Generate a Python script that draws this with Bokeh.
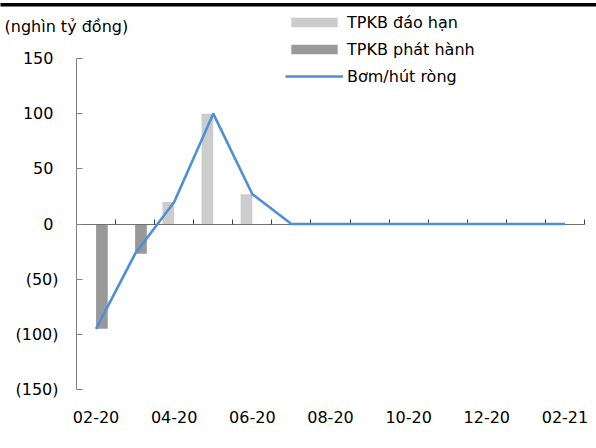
from bokeh.plotting import figure
from bokeh.models import (Range1d, FixedTicker, LinearAxis, Legend, LegendItem,
                          Label, ColumnDataSource)
from bokeh.transform import dodge
from bokeh.embed import file_html
from bokeh.resources import INLINE

# ---- data ----
months = ["02-20", "03-20", "04-20", "05-20", "06-20", "07-20", "08-20",
          "09-20", "10-20", "11-20", "12-20", "01-21", "02-21"]
dao_han = [0, 0, 20, 100, 27, 0, 0, 0, 0, 0, 0, 0, 0]          # TPKB đáo hạn
phat_hanh = [-95, -27, 0, 0, 0, 0, 0, 0, 0, 0, 0, 0, 0]        # TPKB phát hành
bom_hut = [-95, -27, 20, 100, 27, 0, 0, 0, 0, 0, 0, 0, 0]      # Bơm/hút ròng
y_ticks = [-150, -100, -50, 0, 50, 100, 150]
unit_label = "(nghìn tỷ đồng)"
series_names = ["TPKB đáo hạn", "TPKB phát hành", "Bơm/hút ròng"]

FONT = "DejaVu Sans"
FS = "16px"
TXT = "#000000"

W, H = 596, 448
# plot area in pixels: x 76..584, y 58..389
PX = 13 / 508.0
PY = 300 / 331.0
def dx(px):
    return -0.5 + (px - 76) * PX
def dy(py):
    return 150 + (58 - py) * PY

idx = list(range(len(months)))
src = ColumnDataSource(dict(x=idx, dao_han=dao_han, phat_hanh=phat_hanh, net=bom_hut))

p = figure(width=W, height=H, output_backend="svg", toolbar_location=None,
           x_range=Range1d(dx(0), dx(W)), y_range=Range1d(dy(H), dy(0)),
           x_axis_location=None, y_axis_location=None, title=None,
           min_border_left=0, min_border_right=0, min_border_top=0, min_border_bottom=0)
p.outline_line_color = None
p.grid.visible = False
p.background_fill_color = "white"
p.border_fill_color = "white"

r1 = p.vbar(x=dodge("x", -0.15), top="dao_han", width=0.3, source=src,
            fill_color="#CCCCCC", line_color=None)
r2 = p.vbar(x=dodge("x", 0.15), top="phat_hanh", width=0.3, source=src,
            fill_color="#999999", line_color=None)
r3 = p.line(x="x", y="net", source=src, line_color="#4E8FD6", line_width=2.6,
            level="overlay")

# top rule (page decoration), drawn as a thin filled band
p.quad(left=[dx(0)], right=[dx(W)], top=[dy(2.5)], bottom=[dy(6)],
       fill_color="black", line_color=None, level="overlay")

# y axis
yax = LinearAxis(ticker=FixedTicker(ticks=y_ticks), fixed_location=-0.5,
                 bounds=(y_ticks[0], y_ticks[-1]))
yax.major_label_overrides = {t: (f"({abs(t)})" if t < 0 else f"{t}\u00a0") for t in y_ticks}
yax.axis_line_color = "#808080"
yax.major_tick_line_color = "#808080"
yax.major_tick_in = 6
yax.major_tick_out = 0
yax.minor_tick_line_color = None
yax.major_label_standoff = 18
yax.major_label_text_font = FONT
yax.major_label_text_font_size = FS
yax.major_label_text_color = TXT
p.add_layout(yax, "left")

# zero line axis with boundary ticks (no labels)
z_ticks = [i - 0.5 for i in range(len(months) + 1)]
zax = LinearAxis(ticker=FixedTicker(ticks=z_ticks),
                 fixed_location=0, bounds=(-0.5, len(months) - 0.5))
zax.major_label_overrides = {t: "" for t in z_ticks}
zax.axis_line_color = "#707070"
zax.major_tick_line_color = "#404040"
zax.major_tick_in = 5
zax.major_tick_out = 0
zax.minor_tick_line_color = None
zax.major_label_text_alpha = 0
zax.major_label_standoff = 0
p.add_layout(zax, "below")

# label axis at bottom
lab_ticks = idx[::2]
xax = LinearAxis(ticker=FixedTicker(ticks=lab_ticks), fixed_location=y_ticks[0])
xax.major_label_overrides = {i: months[i] for i in lab_ticks}
xax.axis_line_color = None
xax.major_tick_line_color = None
xax.minor_tick_line_color = None
xax.major_label_standoff = 15
xax.major_label_text_font = FONT
xax.major_label_text_font_size = FS
xax.major_label_text_color = TXT
p.add_layout(xax, "below")

# legend
legend = Legend(items=[LegendItem(label=series_names[0], renderers=[r1]),
                       LegendItem(label=series_names[1], renderers=[r2]),
                       LegendItem(label=series_names[2], renderers=[r3])],
                location=(285, H - 86), orientation="vertical",
                glyph_width=58, glyph_height=12, label_height=20, spacing=7,
                label_standoff=4, padding=0, margin=0,
                border_line_color=None, background_fill_alpha=0,
                label_text_font=FONT, label_text_font_size=FS, label_text_color=TXT)
p.add_layout(legend)

# unit label
p.add_layout(Label(x=dx(4), y=dy(26), text=unit_label, text_font=FONT, text_font_size=FS,
                   text_color=TXT, text_baseline="middle", text_align="left"))

open("out.html", "w").write(file_html(p, INLINE))
